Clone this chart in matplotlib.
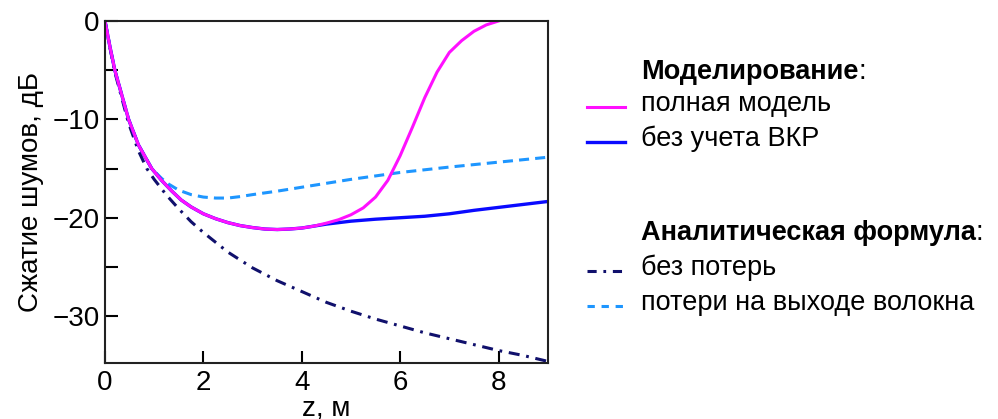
import matplotlib
matplotlib.use("Agg")
import matplotlib.pyplot as plt
from matplotlib.lines import Line2D
from matplotlib.ticker import MultipleLocator

plt.rcParams['font.family'] = ['Liberation Sans', 'DejaVu Sans']

# simulation, full model
z_full = [0, 0.1, 0.2, 0.34, 0.48, 0.68, 0.95, 1.15, 1.36, 1.55, 1.75, 2.0, 2.25, 2.5, 2.75, 3.0,
          3.25, 3.5, 3.75, 4.0, 4.25, 4.5, 4.75, 5.0, 5.25, 5.5, 5.75, 6.0, 6.25, 6.5, 6.75, 7.0,
          7.25, 7.5, 7.75, 8.0]
s_full = [0, -2.6, -5.0, -7.5, -10.0, -12.6, -15.0, -16.2, -17.3, -18.2, -18.9, -19.6, -20.1, -20.5,
          -20.8, -21.0, -21.15, -21.2, -21.15, -21.05, -20.85, -20.55, -20.2, -19.7, -19.0, -17.9,
          -16.2, -13.7, -10.8, -7.8, -5.2, -3.2, -2.0, -1.05, -0.4, 0.0]

# simulation without Raman
z_noraman = [0, 0.1, 0.2, 0.34, 0.48, 0.68, 0.95, 1.15, 1.36, 1.55, 1.75, 2.0, 2.25, 2.5, 2.75, 3.0,
             3.25, 3.5, 3.75, 4.0, 4.5, 5.0, 5.5, 6.0, 6.5, 7.0, 7.5, 8.0, 8.5, 9.0]
s_noraman = [0, -2.6, -5.0, -7.5, -10.0, -12.6, -15.0, -16.2, -17.3, -18.2, -18.9, -19.6, -20.1, -20.5,
             -20.8, -21.0, -21.15, -21.2, -21.15, -21.05, -20.65, -20.35, -20.15, -20.0, -19.85, -19.6,
             -19.25, -18.95, -18.65, -18.35]

# analytic, lossless
z_lossless = [0, 0.1, 0.2, 0.34, 0.48, 0.68, 0.85, 1.0, 1.25, 1.5, 1.75, 2.0, 2.5, 3.0, 3.5, 4.0, 4.5,
              5.0, 5.5, 6.0, 6.5, 7.0, 7.5, 8.0, 8.5, 9.0]
s_lossless = [0, -2.7, -5.2, -7.8, -10.4, -13.2, -15.0, -16.1, -17.7, -19.1, -20.4, -21.5, -23.5, -25.1,
              -26.4, -27.5, -28.6, -29.5, -30.3, -31.0, -31.7, -32.3, -32.9, -33.5, -34.0, -34.6]

# analytic, output losses
z_outloss = [0, 0.1, 0.2, 0.34, 0.48, 0.68, 0.95, 1.15, 1.3, 1.5, 1.75, 2.0, 2.25, 2.5, 2.75, 3.0,
             3.5, 4.0, 5.0, 6.0, 7.0, 8.0, 9.0]
s_outloss = [0, -2.6, -5.0, -7.5, -10.0, -12.6, -15.0, -16.0, -16.6, -17.2, -17.65, -17.9, -18.0, -18.0,
             -17.85, -17.65, -17.3, -16.9, -16.1, -15.4, -14.85, -14.35, -13.85]

c_full = '#ff10ff'
c_noraman = '#0a0aff'
c_lossless = '#10106c'
c_outloss = '#1e96ff'
ls_dashdot = (0, (3.6, 2.2, 0.9, 2.2))
ls_dash = (0, (3.3, 2.0))

fig = plt.figure(figsize=(9.98, 4.19), dpi=100)
ax = fig.add_axes([0.1052, 0.1329, 0.4436, 0.817])

ax.plot(z_lossless, s_lossless, color=c_lossless, lw=2.2, ls=ls_dashdot)
ax.plot(z_outloss, s_outloss, color=c_outloss, lw=2.2, ls=ls_dash)
ax.plot(z_noraman, s_noraman, color=c_noraman, lw=2.4)
ax.plot(z_full, s_full, color=c_full, lw=2.2)

ax.set_xlim(0, 9)
ax.set_ylim(-34.8, 0)
ax.xaxis.set_major_locator(MultipleLocator(2))
ax.yaxis.set_major_locator(MultipleLocator(10))
ax.yaxis.set_minor_locator(MultipleLocator(5))
ax.tick_params(axis='both', which='both', direction='in', length=9, width=1.5,
               labelsize=20, top=False, right=False)
ax.tick_params(axis='x', pad=5)
ax.tick_params(axis='y', pad=4)
for sp in ax.spines.values():
    sp.set_linewidth(1.5)
    sp.set_color('#222222')
ax.set_xlabel('z, м', fontsize=20, labelpad=-0.5)
ax.set_ylabel('Сжатие шумов, дБ', fontsize=20, labelpad=6)

# legend built by hand: two groups with headers
fs = 19.5
x_line0, x_line1, x_text = 0.588, 0.626, 0.642


def header(y, title):
    t = fig.text(x_text, y, title, fontsize=fs, fontweight='bold', va='center')
    ax.annotate(':', xy=(1, 0.5), xycoords=t, va='center', ha='left', fontsize=fs,
                annotation_clip=False)


def entry(y, label, **kw):
    fig.add_artist(Line2D([x_line0, x_line1], [y - 0.008, y - 0.008],
                          transform=fig.transFigure, **kw))
    fig.text(x_text, y, label, fontsize=fs, va='center')


header(1 - 72 / 419, 'Моделирование')
entry(1 - 104 / 419, 'полная модель', color=c_full, lw=2.2)
entry(1 - 139 / 419, 'без учета ВКР', color=c_noraman, lw=2.4)
header(1 - 233 / 419, 'Аналитическая формула')
entry(1 - 268 / 419, 'без потерь', color=c_lossless, lw=2.2, ls=(0, (3, 2.2, 0.9, 2.2)))
entry(1 - 303 / 419, 'потери на выходе волокна', color=c_outloss, lw=2.2, ls=(0, (2.4, 2.2)))

fig.savefig('out.png', dpi=100, facecolor='white')
